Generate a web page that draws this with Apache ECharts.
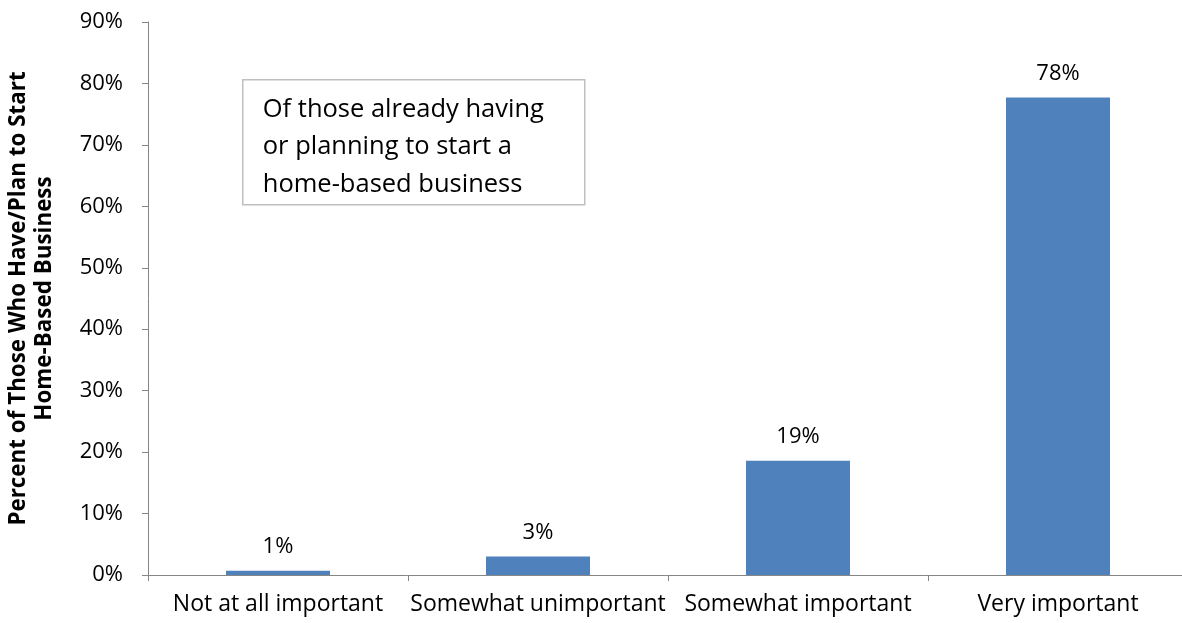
<!DOCTYPE html>
<html>
<head>
<meta charset="utf-8">
<script src="https://cdn.jsdelivr.net/npm/echarts@6/dist/echarts.min.js"></script>
<style>html,body{margin:0;padding:0;background:#fff}#c{width:1182px;height:623px}</style>
</head>
<body>
<div id="c"></div>
<script>
const categories = ["Not at all important", "Somewhat unimportant", "Somewhat important", "Very important"];
const values = [0.7, 3.0, 18.6, 77.7];
const yTicks = { min: 0, max: 90, interval: 10 };
const yAxisTitle = "Percent of Those Who Have/Plan to Start\nHome-Based Business";
const noteLines = ["Of those already having", "or planning to start a", "home-based business"];

const FONT = "'Open Sans', sans-serif";
const chart = echarts.init(document.getElementById('c'), null, { renderer: 'canvas' });
chart.setOption({
  animation: false,
  backgroundColor: '#ffffff',
  grid: { left: 148, right: -6, top: 22, bottom: 48, containLabel: false, outerBoundsMode: 'none' },
  xAxis: {
    type: 'category',
    data: categories,
    axisLine: { lineStyle: { color: '#868686', width: 1 } },
    axisTick: { show: true, length: 6, lineStyle: { color: '#868686' } },
    axisLabel: { color: '#000', fontSize: 23, fontFamily: FONT, margin: 18, interval: 0 }
  },
  yAxis: {
    type: 'value',
    min: yTicks.min, max: yTicks.max, interval: yTicks.interval,
    splitLine: { show: false },
    axisLine: { show: true, lineStyle: { color: '#868686', width: 1 } },
    axisTick: { show: true, length: 6, lineStyle: { color: '#868686' } },
    axisLabel: { color: '#000', fontSize: 22, fontFamily: FONT, margin: 25, formatter: v => v + '%' },
    name: yAxisTitle,
    nameLocation: 'middle',
    nameRotate: 90,
    nameGap: 90,
    nameTextStyle: { color: '#000', fontSize: 22.4, fontWeight: 'bold', fontFamily: FONT, lineHeight: 26, align: 'center' }
  },
  series: [{
    type: 'bar',
    data: values,
    barWidth: '40%',
    itemStyle: { color: '#4f81bd' },
    label: {
      show: true, position: 'top', distance: 13,
      color: '#000', fontSize: 22, fontFamily: FONT,
      formatter: p => Math.round(p.value) + '%'
    }
  }],
  graphic: [{
    type: 'group', left: 242, top: 79,
    children: [
      { type: 'rect', shape: { x: 0, y: 0, width: 342, height: 125 },
        style: { fill: '#fff', stroke: '#bfbfbf', lineWidth: 1.5 } },
      { type: 'text', x: 20, y: 11,
        style: { text: noteLines.join('\n'), fill: '#000', fontSize: 25.5, fontFamily: FONT, lineHeight: 37.5 } }
    ]
  }]
});
</script>
</body>
</html>
